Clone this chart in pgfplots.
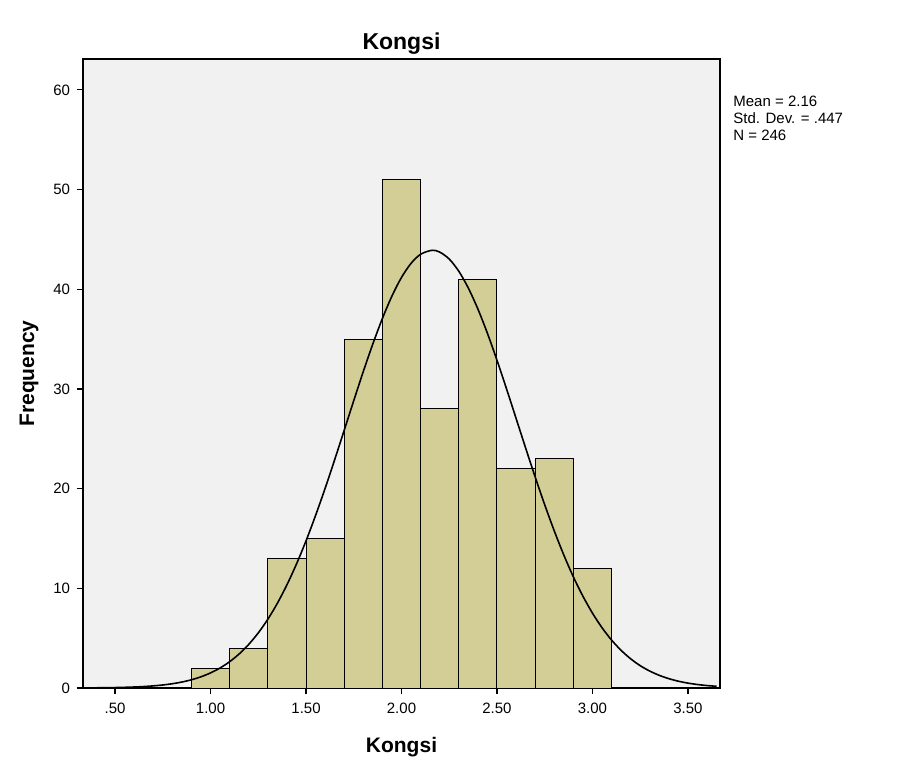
\documentclass[border=0pt]{standalone}
\usepackage{pgfplots}
\pgfplotsset{compat=1.18}
\usepackage{fontspec}
\setmainfont{Liberation Sans}
\definecolor{barfill}{RGB}{211,206,150}
\definecolor{plotbg}{RGB}{241,241,241}

\begin{document}
\begin{tikzpicture}
\begin{axis}[
    name=hist,
    scale only axis,
    width=318.5bp,
    height=314.5bp,
    xmin=0.332, xmax=3.668,
    ymin=0, ymax=63.1,
    xtick={0.5,1,1.5,2,2.5,3,3.5},
    xticklabels={.50,1.00,1.50,2.00,2.50,3.00,3.50},
    ytick={0,10,20,30,40,50,60},
    tick align=outside,
    xtick pos=bottom,
    ytick pos=left,
    major tick length=3bp,
    tick style={black, line width=0.6bp},
    axis line style={black, line width=0.7bp},
    axis background/.style={fill=plotbg},
    /pgf/number format/assume math mode=true,
    tick label style={font=\fontsize{7.5bp}{9bp}\selectfont},
    xticklabel style={yshift=-1bp},
    title={\textbf{Kongsi}},
    title style={font=\fontsize{11.5bp}{13bp}\selectfont, at={(0.5,1)}, anchor=south, yshift=-7bp},
    xlabel={\textbf{Kongsi}},
    xlabel style={font=\fontsize{10.5bp}{12bp}\selectfont, yshift=-5bp},
    ylabel={\textbf{Frequency}},
    ylabel style={font=\fontsize{10.5bp}{12bp}\selectfont, yshift=0.5bp},
    clip=false,
]

% histogram, bin width 0.2
\addplot[ybar interval, draw=black, line width=0.5bp, fill=barfill] coordinates {
    (0.9,2) (1.1,4) (1.3,13) (1.5,15) (1.7,35) (1.9,51)
    (2.1,28) (2.3,41) (2.5,22) (2.7,23) (2.9,12) (3.1,0)
};

% normal curve, mean 2.16, sd .447, N 246
\addplot[black, line width=0.8bp, smooth] coordinates {
    (0.35,0.012) (0.40,0.019) (0.45,0.029) (0.50,0.044) (0.55,0.067)
    (0.60,0.099) (0.65,0.146) (0.70,0.212) (0.75,0.303) (0.80,0.429)
    (0.85,0.599) (0.90,0.826) (0.95,1.125) (1.00,1.515) (1.05,2.012)
    (1.10,2.639) (1.15,3.419) (1.20,4.376) (1.25,5.529) (1.30,6.899)
    (1.35,8.501) (1.40,10.35) (1.45,12.44) (1.50,14.76) (1.55,17.31)
    (1.60,20.03) (1.65,22.90) (1.70,25.86) (1.75,28.83) (1.80,31.75)
    (1.85,34.52) (1.90,37.07) (1.95,39.32) (2.00,41.19) (2.05,42.60)
    (2.10,43.51) (2.16,43.91) (2.20,43.73) (2.25,43.03) (2.30,41.81)
    (2.35,40.12) (2.40,38.02) (2.45,35.58) (2.50,32.88) (2.55,30.01)
    (2.60,27.05) (2.65,24.08) (2.70,21.17) (2.75,18.38) (2.80,15.76)
    (2.85,13.34) (2.90,11.15) (2.95,9.21) (3.00,7.51) (3.05,6.05)
    (3.10,4.81) (3.15,3.78) (3.20,2.93) (3.25,2.24) (3.30,1.70)
    (3.35,1.27) (3.40,0.937) (3.45,0.682) (3.50,0.491) (3.55,0.349)
    (3.60,0.245) (3.65,0.170)
};

\end{axis}

\node[anchor=north west, align=left, inner sep=0pt,
      font=\fontsize{7.5bp}{8.5bp}\selectfont]
    at ([xshift=6.5bp, yshift=-18.5bp]hist.north east)
    {Mean = 2.16\\Std. Dev. = .447\\N = 246};

% page size to match the reference
\path[use as bounding box]
    ([xshift=-41.5bp, yshift=-38.5bp]hist.south west)
    rectangle ([xshift=89.5bp, yshift=29.5bp]hist.north east);
\end{tikzpicture}
\end{document}
